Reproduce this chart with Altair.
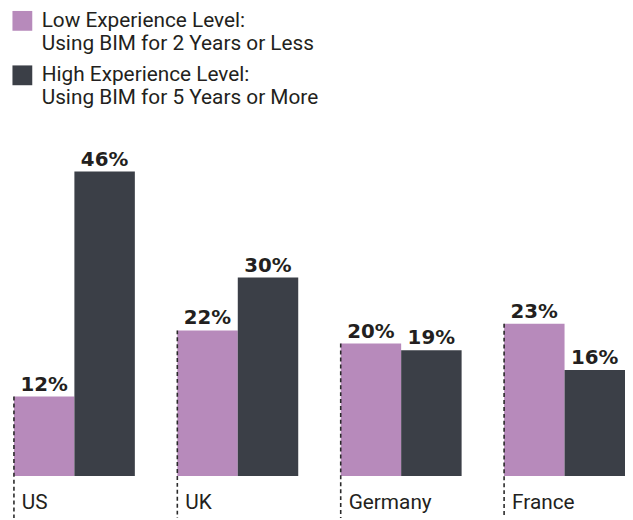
import altair as alt
import pandas as pd

countries = ["US", "UK", "Germany", "France"]
low_values = [12, 22, 20, 23]
high_values = [46, 30, 19, 16]
series_keys = ["low", "high"]
legend_lines = {
    "low": ["Low Experience Level:", "Using BIM for 2 Years or Less"],
    "high": ["High Experience Level:", "Using BIM for 5 Years or More"],
}
colors = ["#b78abb", "#3b3f47"]

rows = []
for c, lo, hi in zip(countries, low_values, high_values):
    rows.append({"country": c, "series": "low", "value": lo})
    rows.append({"country": c, "series": "high", "value": hi})
df = pd.DataFrame(rows)
df_low = pd.DataFrame({"country": countries, "value": low_values})

W, H = 617, 334
NARROW = "Roboto, Liberation Sans, sans-serif"

def js_arr(lines):
    return "[" + ", ".join("'" + s + "'" for s in lines) + "]"

label_expr = (
    f"datum.value == 'low' ? {js_arr(legend_lines['low'])} : {js_arr(legend_lines['high'])}"
)

xscale = alt.Scale(domain=countries, paddingInner=0.26, paddingOuter=0)
yscale = alt.Scale(domain=[0, 50])
offscale = alt.Scale(domain=series_keys, paddingInner=0, paddingOuter=0)

bars = alt.Chart(df).mark_bar().encode(
    x=alt.X("country:N", scale=xscale, axis=None, sort=countries),
    xOffset=alt.XOffset("series:N", scale=offscale),
    y=alt.Y("value:Q", scale=yscale, axis=None),
    color=alt.Color(
        "series:N",
        scale=alt.Scale(domain=series_keys, range=colors),
        legend=alt.Legend(
            title=None,
            orient="none",
            legendX=-2,
            legendY=-136,
            symbolType="square",
            symbolSize=400,
            symbolStrokeWidth=0,
            symbolOpacity=1,
            labelExpr=label_expr,
            labelFont=NARROW,
            labelFontSize=21,
            labelColor="#231f20",
            labelLimit=0,
            labelOffset=9,
            labelBaseline="middle",
            rowPadding=10,
            padding=0,
        ),
    ),
)

values = alt.Chart(df).transform_calculate(
    label="datum.value + '%'"
).mark_text(
    align="left", baseline="alphabetic", dx=-24, dy=-6,
    font="DejaVu Sans", fontWeight="bold", fontSize=20, color="#231f20",
).encode(
    x=alt.X("country:N", scale=xscale, axis=None, sort=countries),
    xOffset=alt.XOffset("series:N", scale=offscale),
    y=alt.Y("value:Q", scale=yscale),
    text="label:N",
)

rules = alt.Chart(df_low).mark_rule(
    color="#2a2a2a", strokeWidth=1.6, strokeDash=[4, 3]
).encode(
    x=alt.X("country:N", scale=xscale, axis=None, sort=countries, bandPosition=0),
    y=alt.Y("value:Q", scale=yscale),
    y2=alt.value(H + 45),
)

cats = alt.Chart(df_low).mark_text(
    align="left", baseline="alphabetic", dx=8,
    font=NARROW, fontSize=21, color="#231f20",
).encode(
    x=alt.X("country:N", scale=xscale, axis=None, sort=countries, bandPosition=0),
    y=alt.value(H + 33),
    text="country:N",
)

chart = alt.layer(bars, rules, values, cats).properties(
    width=W, height=H,
    autosize=alt.AutoSizeParams(type="none"),
    padding={"left": 6, "top": 136, "right": 0, "bottom": 40},
).configure_view(stroke=None)

chart.save("out.html", embed_options={"renderer": "svg", "actions": False})
